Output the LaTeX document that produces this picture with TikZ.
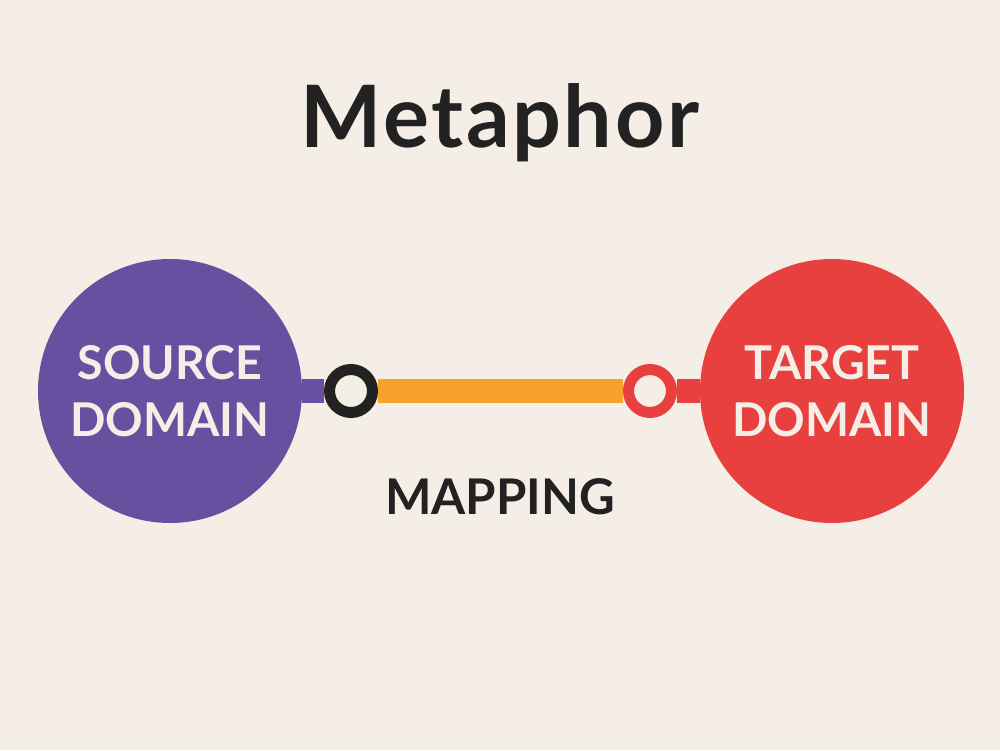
\documentclass[tikz,border=0pt]{standalone}
\usepackage{fontspec}
\setmainfont{Lato}
\newfontfamily\titlefont[LetterSpace=3]{Lato}
\usepackage{tikz}
\usetikzlibrary{positioning,calc}
\definecolor{paper}{RGB}{245,238,230}
\definecolor{srcpurple}{RGB}{103,80,160}
\definecolor{tgtred}{RGB}{232,64,62}
\definecolor{maporange}{RGB}{248,162,46}
\definecolor{inkblack}{RGB}{34,34,34}

\begin{document}
\begin{tikzpicture}[
    domainbubble/.style={circle, minimum size=5.28cm, inner sep=0pt, align=center,
        text=paper, font=\fontsize{26.5}{32.5}\selectfont\bfseries},
    ring/.style={circle, minimum size=0.86cm, inner sep=0pt, line width=0.22cm, fill=paper},
    link/.style={line width=0.48cm}
]
    \fill[paper] (0,0) rectangle (20,15);
    \useasboundingbox (0,0) rectangle (20,15);

    \node[font=\titlefont\fontsize{49}{56}\selectfont\bfseries, text=inkblack] (title) at (10,12.55) {Metaphor};

    \node[domainbubble, fill=srcpurple] (source) at (3.4,7.18) {SOURCE\\DOMAIN};
    \node[domainbubble, fill=tgtred] (target) at (16.64,7.18) {TARGET\\DOMAIN};

    \node[ring, draw=inkblack] (srcring) at (7.02,7.18) {};
    \node[ring, draw=tgtred] (tgtring) at (13.0,7.18) {};

    \draw[link, srcpurple] (source) -- (srcring);
    \draw[link, maporange] (srcring) -- (tgtring);
    \draw[link, tgtred] (tgtring) -- (target);

    \node[font=\fontsize{28}{33}\selectfont\bfseries, text=inkblack] (mapping) at (10,5.06) {MAPPING};
\end{tikzpicture}
\end{document}
